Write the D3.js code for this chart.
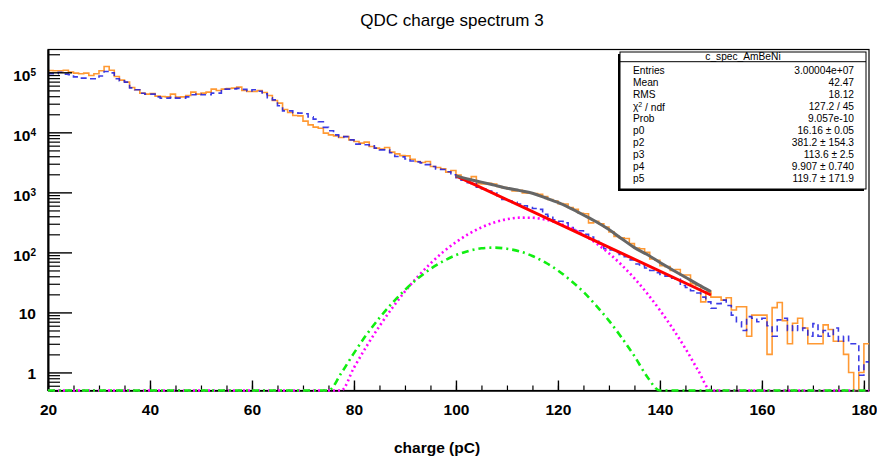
<!DOCTYPE html>
<html>
<head>
<meta charset="utf-8">
<script src="https://cdn.jsdelivr.net/npm/d3@7"></script>
<style>
  body { margin: 0; background: #fff; }
  svg { display: block; font-family: "Liberation Sans", Arial, Helvetica, sans-serif; }
</style>
</head>
<body>
<svg id="chart" width="877" height="457"></svg>
<script>
// histogram bins: 1 pC wide, first bin starts at 20 pC
var binStart = 20;
var binWidth = 1;

// measured spectrum (orange, solid)
var dataCounts = [
  107000, 106000, 106000, 108500, 100800, 97000, 94400, 97000, 88400, 94400,
  106000, 125000, 108500, 85100, 74200, 68700, 55800, 51100, 45000, 43300,
  44400, 40100, 39500, 39000, 43300, 38600, 39000, 41000, 46800, 43300,
  45000, 46800, 52500, 49700, 52500, 53700, 54500, 56700, 49700, 47900,
  47900, 49700, 46000, 41000, 33900, 30700, 24000, 21400, 19100, 18800,
  15400, 13300, 12200, 11700, 9700, 9080, 8740, 8190, 8510, 7500,
  7030, 6610, 6870, 5800, 5450, 5250, 5580, 4680, 4380, 4100,
  4060, 3570, 3260, 3140, 3260, 2690, 2590, 2460, 2170, 2310,
  1950, 1700, 1600, 1830, 1400, 1380, 1420, 1370, 1250, 1200,
  1150, 1060, 1080, 980, 970, 960, 930, 850, 760, 720,
  650, 640, 560, 520, 450, 440, 310, 330, 300, 265,
  220, 185, 175, 170, 140, 118, 115, 100, 78, 74,
  60, 58, 50, 52, 42, 42, 30, 28, 15, 22,
  18, 18, 16, 17.5, 11, 12.4, 12.4, 4, 9, 9,
  9, 2, 12, 14.6, 7.3, 3, 6.6, 8, 5.5, 3,
  3, 3, 6.2, 5.2, 3.3, 3.3, 2, 1, 0, 1, 3
];

// reference spectrum (blue, dashed)
var refCounts = [
  94400, 94400, 100000, 93300, 91000, 84000, 80000, 80000, 78000, 78000,
  87000, 103000, 98000, 78000, 72000, 68700, 55000, 51100, 44700, 43300,
  43300, 39000, 37200, 37200, 38300, 37200, 37200, 39000, 42200, 43300,
  42200, 42200, 45000, 45000, 52500, 52500, 53000, 54000, 52000, 49000,
  51100, 48300, 43800, 37600, 34800, 27700, 22800, 22800, 21200, 20900,
  20400, 18100, 16600, 15000, 12100, 10600, 9080, 8400, 8500, 7500,
  6360, 6360, 6200, 5970, 5450, 5100, 5100, 4560, 3950, 3900,
  3600, 3330, 3220, 3100, 2900, 2700, 2450, 2400, 2200, 1970,
  1750, 1600, 1450, 1400, 1220, 1150, 1050, 980, 880, 760,
  720, 680, 640, 600, 560, 540, 520, 430, 400, 350,
  330, 310, 260, 240, 230, 200, 180, 160, 140, 115,
  110, 100, 92, 85, 75, 64, 60, 55, 50, 46,
  43, 40, 37, 36, 28, 26, 23, 21, 18, 15,
  11.7, 14, 16, 13, 9, 7, 5, 8.5, 8, 7,
  8, 6, 4, 7.5, 8, 5, 6, 5, 5.5, 4,
  6.5, 4, 5, 4, 5.5, 3.3, 4, 3, 3, 0.9, 1.5
];

// fit components
var gausAX = [20, 75, 77.5, 80, 82.5, 85, 87.5, 90, 92.5, 95, 97.5, 100, 102.5, 105, 107.5, 110,
  112.5, 115, 117.5, 120, 122.5, 125, 127.5, 130, 132.5, 135, 137.5, 140, 142.5, 145, 147.5, 150, 152.5, 181];
var gausAY = [0, 0.2, 0.49, 1.2, 2.75, 5.9, 11.8, 22.3, 39.3, 65.2, 102, 148, 203, 261, 315, 357,
  379, 377, 353, 309, 254, 196, 142, 96.6, 61.6, 36.9, 20.7, 10.9, 5.4, 2.5, 1.08, 0.44, 0.15, 0];

var gausBX = [20, 72.5, 75, 77.5, 80, 82.5, 85, 87.5, 90, 92.5, 95, 97.5, 100, 102.5, 105, 107.5,
  110, 112.5, 115, 117.5, 120, 122.5, 125, 127.5, 130, 132.5, 135, 137.5, 140, 142.5, 181];
var gausBY = [0, 0.15, 0.42, 0.97, 2.1, 4.3, 8.1, 14.3, 23.7, 36.6, 52.9, 71.3, 89.9, 106, 117, 120,
  115, 104, 87, 68, 50, 34, 22, 13, 7.3, 3.8, 1.87, 0.85, 0.36, 0.1, 0];

var expoX = [100, 125, 150];
var expoY = [1884, 192, 19.5];

var totalX = [100, 102.5, 105, 107.5, 110, 112.5, 115, 117.5, 120, 122.5, 125,
  127.5, 130, 132.5, 135, 137.5, 140, 142.5, 145, 147.5, 150];
var totalY = [1884, 1650, 1480, 1320, 1175, 1070, 966, 813, 680, 540, 420,
  324, 240, 169, 120, 92, 68, 51, 38.6, 29, 22.2];

var xMajor = [20, 40, 60, 80, 100, 120, 140, 160, 180];
var yMajor = [1, 10, 100, 1000, 10000, 100000];

var statsTitle = "c_spec_AmBeNi";
var statsNames = ["Entries", "Mean", "RMS", "chi2", "Prob", "p0", "p2", "p3", "p4", "p5"];
var statsValues = ["3.00004e+07", "42.47", "18.12", "127.2 / 45", "9.057e-10",
  "16.16 \u00b1 0.05", "381.2 \u00b1 154.3", "113.6 \u00b1 2.5", "9.907 \u00b1 0.740", "119.7 \u00b1 171.9"];

var svg = d3.select("#chart");
var frameL = 48, frameR = 869, frameT = 49.5, frameB = 390.5;
var yMin = 0.5, yMax = 2.4e5;

var x = d3.scaleLinear().domain([20, 181]).range([frameL, frameR]);
var y = d3.scaleLog().domain([yMin, yMax]).range([frameB, frameT]).clamp(true);
function yv(v) { return y(Math.max(v, yMin)); }

svg.append("defs").append("clipPath").attr("id", "clip")
  .append("rect").attr("x", frameL).attr("y", frameT - 2)
  .attr("width", frameR - frameL).attr("height", frameB - frameT + 4);

// title
svg.append("text").attr("x", 452).attr("y", 26).attr("text-anchor", "middle")
  .attr("font-size", 17).text("QDC charge spectrum 3");

// frame
svg.append("rect").attr("x", frameL).attr("y", frameT).attr("width", frameR - frameL)
  .attr("height", frameB - frameT).attr("fill", "none").attr("stroke", "#000").attr("stroke-width", 1.2);

// histograms
function stepPoints(counts) {
  var pts = counts.map(function(c, i) { return [binStart + i * binWidth, c]; });
  pts.push([binStart + counts.length * binWidth, counts[counts.length - 1]]);
  return pts;
}
var stepLine = d3.line().x(function(d) { return x(d[0]); }).y(function(d) { return yv(d[1]); })
  .curve(d3.curveStepAfter);

var plot = svg.append("g").attr("clip-path", "url(#clip)");
plot.append("path").attr("d", stepLine(stepPoints(dataCounts)))
  .attr("fill", "none").attr("stroke", "#ff9933").attr("stroke-width", 1.6);
plot.append("path").attr("d", stepLine(stepPoints(refCounts)))
  .attr("fill", "none").attr("stroke", "#1a1ae0").attr("stroke-width", 1.6)
  .attr("stroke-opacity", 0.85).attr("stroke-dasharray", "6,4");

// axes (ROOT style: ticks pointing into the frame)
var xMinor = d3.range(20, 181, 5);
svg.append("g").attr("transform", "translate(0," + frameB + ")")
  .call(d3.axisBottom(x).tickValues(xMinor).tickSizeInner(-5).tickSizeOuter(0).tickFormat(""))
  .call(function(g) { g.select(".domain").attr("stroke-width", 1.6); g.selectAll("line").attr("stroke-width", 1.2); });
svg.append("g").attr("transform", "translate(0," + frameB + ")")
  .call(d3.axisBottom(x).tickValues(xMajor).tickSizeInner(-10).tickSizeOuter(0).tickPadding(13.5))
  .call(function(g) {
    g.select(".domain").remove();
    g.selectAll("line").attr("stroke-width", 1.4);
    g.selectAll("text").attr("font-size", 15.5).attr("font-weight", "bold")
      .attr("font-family", "Liberation Sans, Arial, sans-serif").attr("fill", "#000");
  });

var yMinor = [];
[0.1, 1, 10, 100, 1000, 10000, 100000].forEach(function(p) {
  for (var k = 2; k <= 9; k++) { var v = p * k; if (v >= yMin && v <= yMax) yMinor.push(v); }
});
svg.append("g").attr("transform", "translate(" + frameL + ",0)")
  .call(d3.axisLeft(y).tickValues(yMinor).tickSizeInner(-12).tickSizeOuter(0).tickFormat(""))
  .call(function(g) { g.select(".domain").attr("stroke-width", 2); g.selectAll("line").attr("stroke-width", 1.2); });
svg.append("g").attr("transform", "translate(" + frameL + ",0)")
  .call(d3.axisLeft(y).tickValues(yMajor).tickSizeInner(-24).tickSizeOuter(0).tickPadding(12))
  .call(function(g) {
    g.select(".domain").remove();
    g.selectAll("line").attr("stroke-width", 1.4);
    g.selectAll("text").attr("font-size", 15.5).attr("font-weight", "bold")
      .attr("font-family", "Liberation Sans, Arial, sans-serif").attr("fill", "#000").attr("dy", "0.4em")
      .each(function(d) {
        var t = d3.select(this), e = Math.round(Math.log10(d));
        t.text(null);
        if (e < 2) { t.text(d); return; }
        t.attr("dy", "0.5em");
        t.append("tspan").text("10");
        t.append("tspan").attr("dy", "-0.48em").attr("font-size", 10).text(e);
      });
  });

// x axis title
svg.append("text").attr("x", 437).attr("y", 453).attr("text-anchor", "middle")
  .attr("font-size", 15.5).attr("font-weight", "bold").text("charge (pC)");

// fit curves, drawn over the axis line like ROOT does
var fitLine = d3.line().x(function(d) { return x(d[0]); }).y(function(d) { return yv(d[1]); })
  .curve(d3.curveMonotoneX);
function zipXY(xs, ys) { return xs.map(function(v, i) { return [v, ys[i]]; }); }

var fits = svg.append("g").attr("clip-path", "url(#clip)");
fits.append("path").attr("d", fitLine(zipXY(gausAX, gausAY)))
  .attr("fill", "none").attr("stroke", "#ff00ff").attr("stroke-width", 2.6).attr("stroke-dasharray", "2,3");
fits.append("path").attr("d", fitLine(zipXY(gausBX, gausBY)))
  .attr("fill", "none").attr("stroke", "#11ee11").attr("stroke-width", 2.6).attr("stroke-dasharray", "7,4,2,4");
fits.append("path").attr("d", fitLine(zipXY(expoX, expoY)))
  .attr("fill", "none").attr("stroke", "#ff0000").attr("stroke-width", 3);
fits.append("path").attr("d", fitLine(zipXY(totalX, totalY)))
  .attr("fill", "none").attr("stroke", "#666666").attr("stroke-width", 3);

// stats box
var bx = 620, by = 52, bw = 246, bh = 137;
svg.append("rect").attr("x", bx - 2).attr("y", by + 2).attr("width", bw).attr("height", bh).attr("fill", "#000");
svg.append("rect").attr("x", bx).attr("y", by).attr("width", bw).attr("height", bh)
  .attr("fill", "#fff").attr("stroke", "#000").attr("stroke-width", 1);
svg.append("line").attr("x1", bx).attr("x2", bx + bw).attr("y1", 61.7).attr("y2", 61.7)
  .attr("stroke", "#000").attr("stroke-width", 1);
svg.append("text").attr("x", bx + bw / 2).attr("y", 60).attr("text-anchor", "middle")
  .attr("font-size", 10.2).text(statsTitle);

var rows = svg.append("g").attr("font-size", 10.2);
statsNames.forEach(function(n, i) {
  var yy = 73.5 + i * 12.1;
  var lab = rows.append("text").attr("x", 633).attr("y", yy);
  if (n === "chi2") {
    lab.append("tspan").text("\u03c7");
    lab.append("tspan").attr("dy", "-0.45em").attr("font-size", 7).text("2");
    lab.append("tspan").attr("dy", "0.45em").text(" / ndf");
  } else {
    lab.text(n);
  }
  rows.append("text").attr("x", 854).attr("y", yy).attr("text-anchor", "end").text(statsValues[i]);
});
</script>
</body>
</html>
